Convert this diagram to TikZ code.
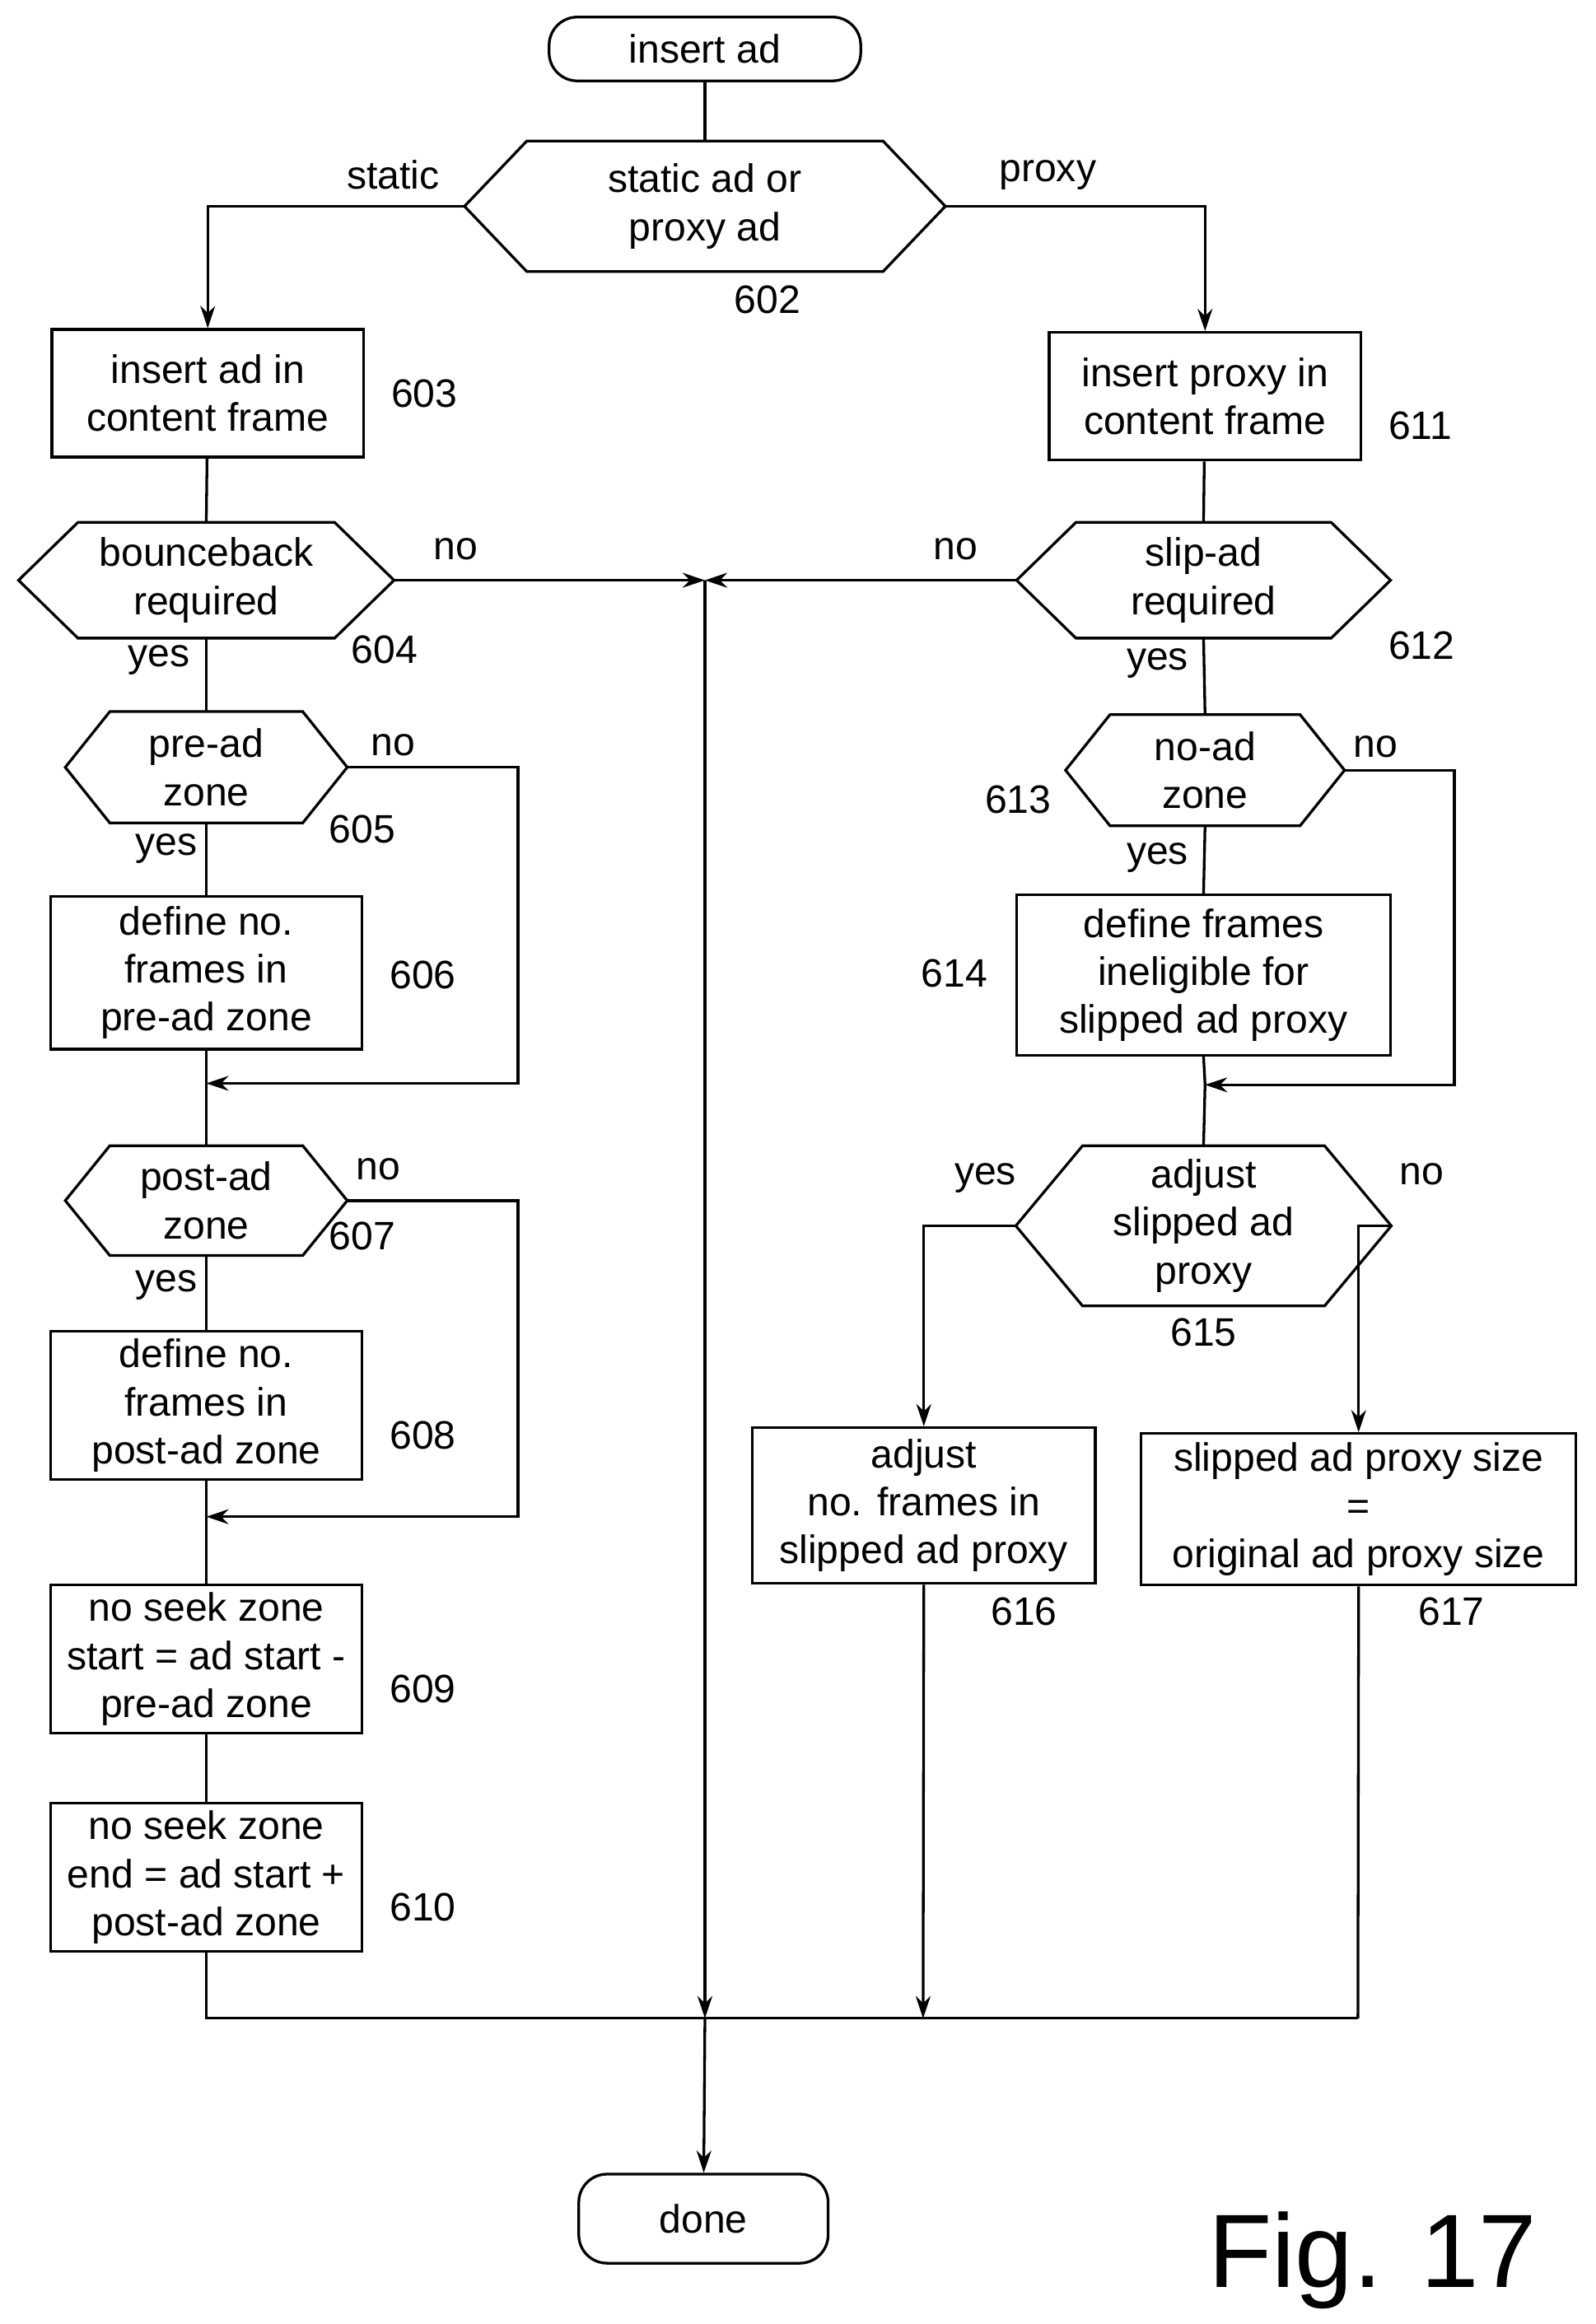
\documentclass[tikz,border=0pt]{standalone}
\usepackage{fontspec}
\setmainfont{Liberation Sans}
\usetikzlibrary{arrows.meta,calc}
\begin{document}
\begin{tikzpicture}[x=0.05cm,y=-0.05cm,line width=2.6pt,
  every node/.style={font=\fontsize{38}{46}\selectfont,align=center,inner sep=0pt},
  box/.style={draw,rectangle},
  term/.style={draw,rounded corners=0.95cm},
  lab/.style={},
  arr/.style={-{Stealth[length=0.75cm,width=0.5cm]}}]
\useasboundingbox (0,0) rectangle (1075,1566);
\newcommand{\hexa}[7]{% name cx cy w h d text
  \node (#1) at (#2,#3) {#7};
  \coordinate (#1W) at ({#2-#4/2},#3);
  \coordinate (#1E) at ({#2+#4/2},#3);
  \draw (#1W) -- ({#2-#4/2+#6},{#3-#5/2}) -- ({#2+#4/2-#6},{#3-#5/2}) -- (#1E)
     -- ({#2+#4/2-#6},{#3+#5/2}) -- ({#2-#4/2+#6},{#3+#5/2}) -- cycle;
  \coordinate (#1N) at (#2,{#3-#5/2});
  \coordinate (#1S) at (#2,{#3+#5/2});}
\newcommand{\bx}[6]{% name x1 y1 x2 y2 text
  \node[box,minimum width={(#4-#2)*0.05cm},minimum height={(#5-#3)*0.05cm}] (#1) at ({(#2+#4)/2},{(#3+#5)/2}) {#6};}
% terminals
\node[term,minimum width=10.5cm,minimum height=2.15cm] (start) at (475,33) {insert ad};
\node[term,minimum width=8.4cm,minimum height=3cm] (done) at (474,1495) {done};
% hexagons
\hexa{h602}{475}{139}{324}{88}{42}{static ad or\\proxy ad}
\hexa{h604}{139}{391}{253}{78}{40}{bounceback\\required}
\hexa{h612}{811}{391}{252}{78}{40}{slip-ad\\required}
\hexa{h605}{139}{517}{190}{75}{30}{pre-ad\\zone}
\hexa{h607}{139}{809}{190}{74}{30}{post-ad\\zone}
\hexa{h613}{812}{519}{188}{75}{30}{no-ad\\zone}
\hexa{h615}{811}{826}{253}{108}{45}{adjust\\slipped ad\\proxy}
% boxes
\bx{b603}{35}{222}{245}{308}{insert ad in\\content frame}
\bx{b611}{707}{224}{917}{310}{insert proxy in\\content frame}
\bx{b606}{34}{604}{244}{707}{define no.\\frames in\\pre-ad zone}
\bx{b608}{34}{897}{244}{997}{define no.\\frames in\\post-ad zone}
\bx{b609}{34}{1068}{244}{1168}{no seek zone\\start = ad start -\\pre-ad zone}
\bx{b610}{34}{1215}{244}{1315}{no seek zone\\end = ad start +\\post-ad zone}
\bx{b614}{685}{603}{937}{711}{define frames\\ineligible for\\slipped ad proxy}
\bx{b616}{507}{962}{738}{1067}{adjust\\no. frames in\\slipped ad proxy}
\bx{b617}{769}{966}{1062}{1068}{slipped ad proxy size\\=\\original ad proxy size}
% coordinates
\coordinate (mid) at (475,391);
\coordinate (bot) at (475,1360);
\coordinate (botL) at (139,1360);
\coordinate (botR) at (915,1360);
\coordinate (m1) at (139,730);
\coordinate (m2) at (139,1022);
\coordinate (m3) at (812,731);
% connectors
\draw (start) -- (h602N);
\draw[arr] (h602W) -| (b603.north);
\draw[arr] (h602E) -| (b611.north);
\draw (b603) -- (h604N);
\draw (b611) -- (h612N);
\draw[arr] (h604E) -- (mid);
\draw[arr] (h612W) -- (mid);
\draw[arr] (mid) -- (bot);
\draw[arr] (bot) -- (done);
\draw (h604S) -- (h605N);
\draw (h605S) -- (b606.north);
\draw[arr] (h605E) -- (349,517) -- (349,730) -- (m1);
\draw (b606.south) -- (m1) -- (h607N);
\draw (h607S) -- (b608.north);
\draw[arr] (h607E) -- (349,809) -- (349,1022) -- (m2);
\draw (b608.south) -- (m2) -- (b609.north);
\draw (b609) -- (b610);
\draw (b610.south) -- (botL) -- (botR);
\draw (h612S) -- (h613N);
\draw (h613S) -- (b614.north);
\draw[arr] (h613E) -- (980,519) -- (980,731) -- (m3);
\draw (b614.south) -- (m3) -- (h615N);
\draw[arr] (h615W) -| (b616.north);
\draw[arr] (h615E) -| (b617.north);
\draw[arr] (b616.south) -- (622,1360);
\draw (b617.south) -- (botR);
% labels
\node (l1) at (265,118) {static};
\node (l2) at (706,118) {proxy};
\node (l3) at (517,202) {602};
\node (l4) at (286,265) {603};
\node (l5) at (957,287) {611};
\node (l6) at (307,370) {no};
\node (l7) at (259,438) {604};
\node (l8) at (107,445) {yes};
\node (l9) at (644,370) {no};
\node (l10) at (958,435) {612};
\node (l11) at (780,447) {yes};
\node (l12) at (265,502) {no};
\node (l13) at (244,559) {605};
\node (l14) at (112,572) {yes};
\node (l15) at (285,657) {606};
\node (l16) at (255,788) {no};
\node (l17) at (244,833) {607};
\node (l18) at (112,866) {yes};
\node (l19) at (285,967) {608};
\node (l20) at (285,1138) {609};
\node (l21) at (285,1285) {610};
\node (l22) at (686,539) {613};
\node (l23) at (927,503) {no};
\node (l24) at (780,578) {yes};
\node (l25) at (643,656) {614};
\node (l26) at (664,794) {yes};
\node (l27) at (958,791) {no};
\node (l28) at (811,898) {615};
\node (l29) at (690,1086) {616};
\node (l30) at (978,1086) {617};
\node[font=\fontsize{100}{110}\selectfont] (fig) at (925,1523) {Fig. 17};
\end{tikzpicture}
\end{document}
